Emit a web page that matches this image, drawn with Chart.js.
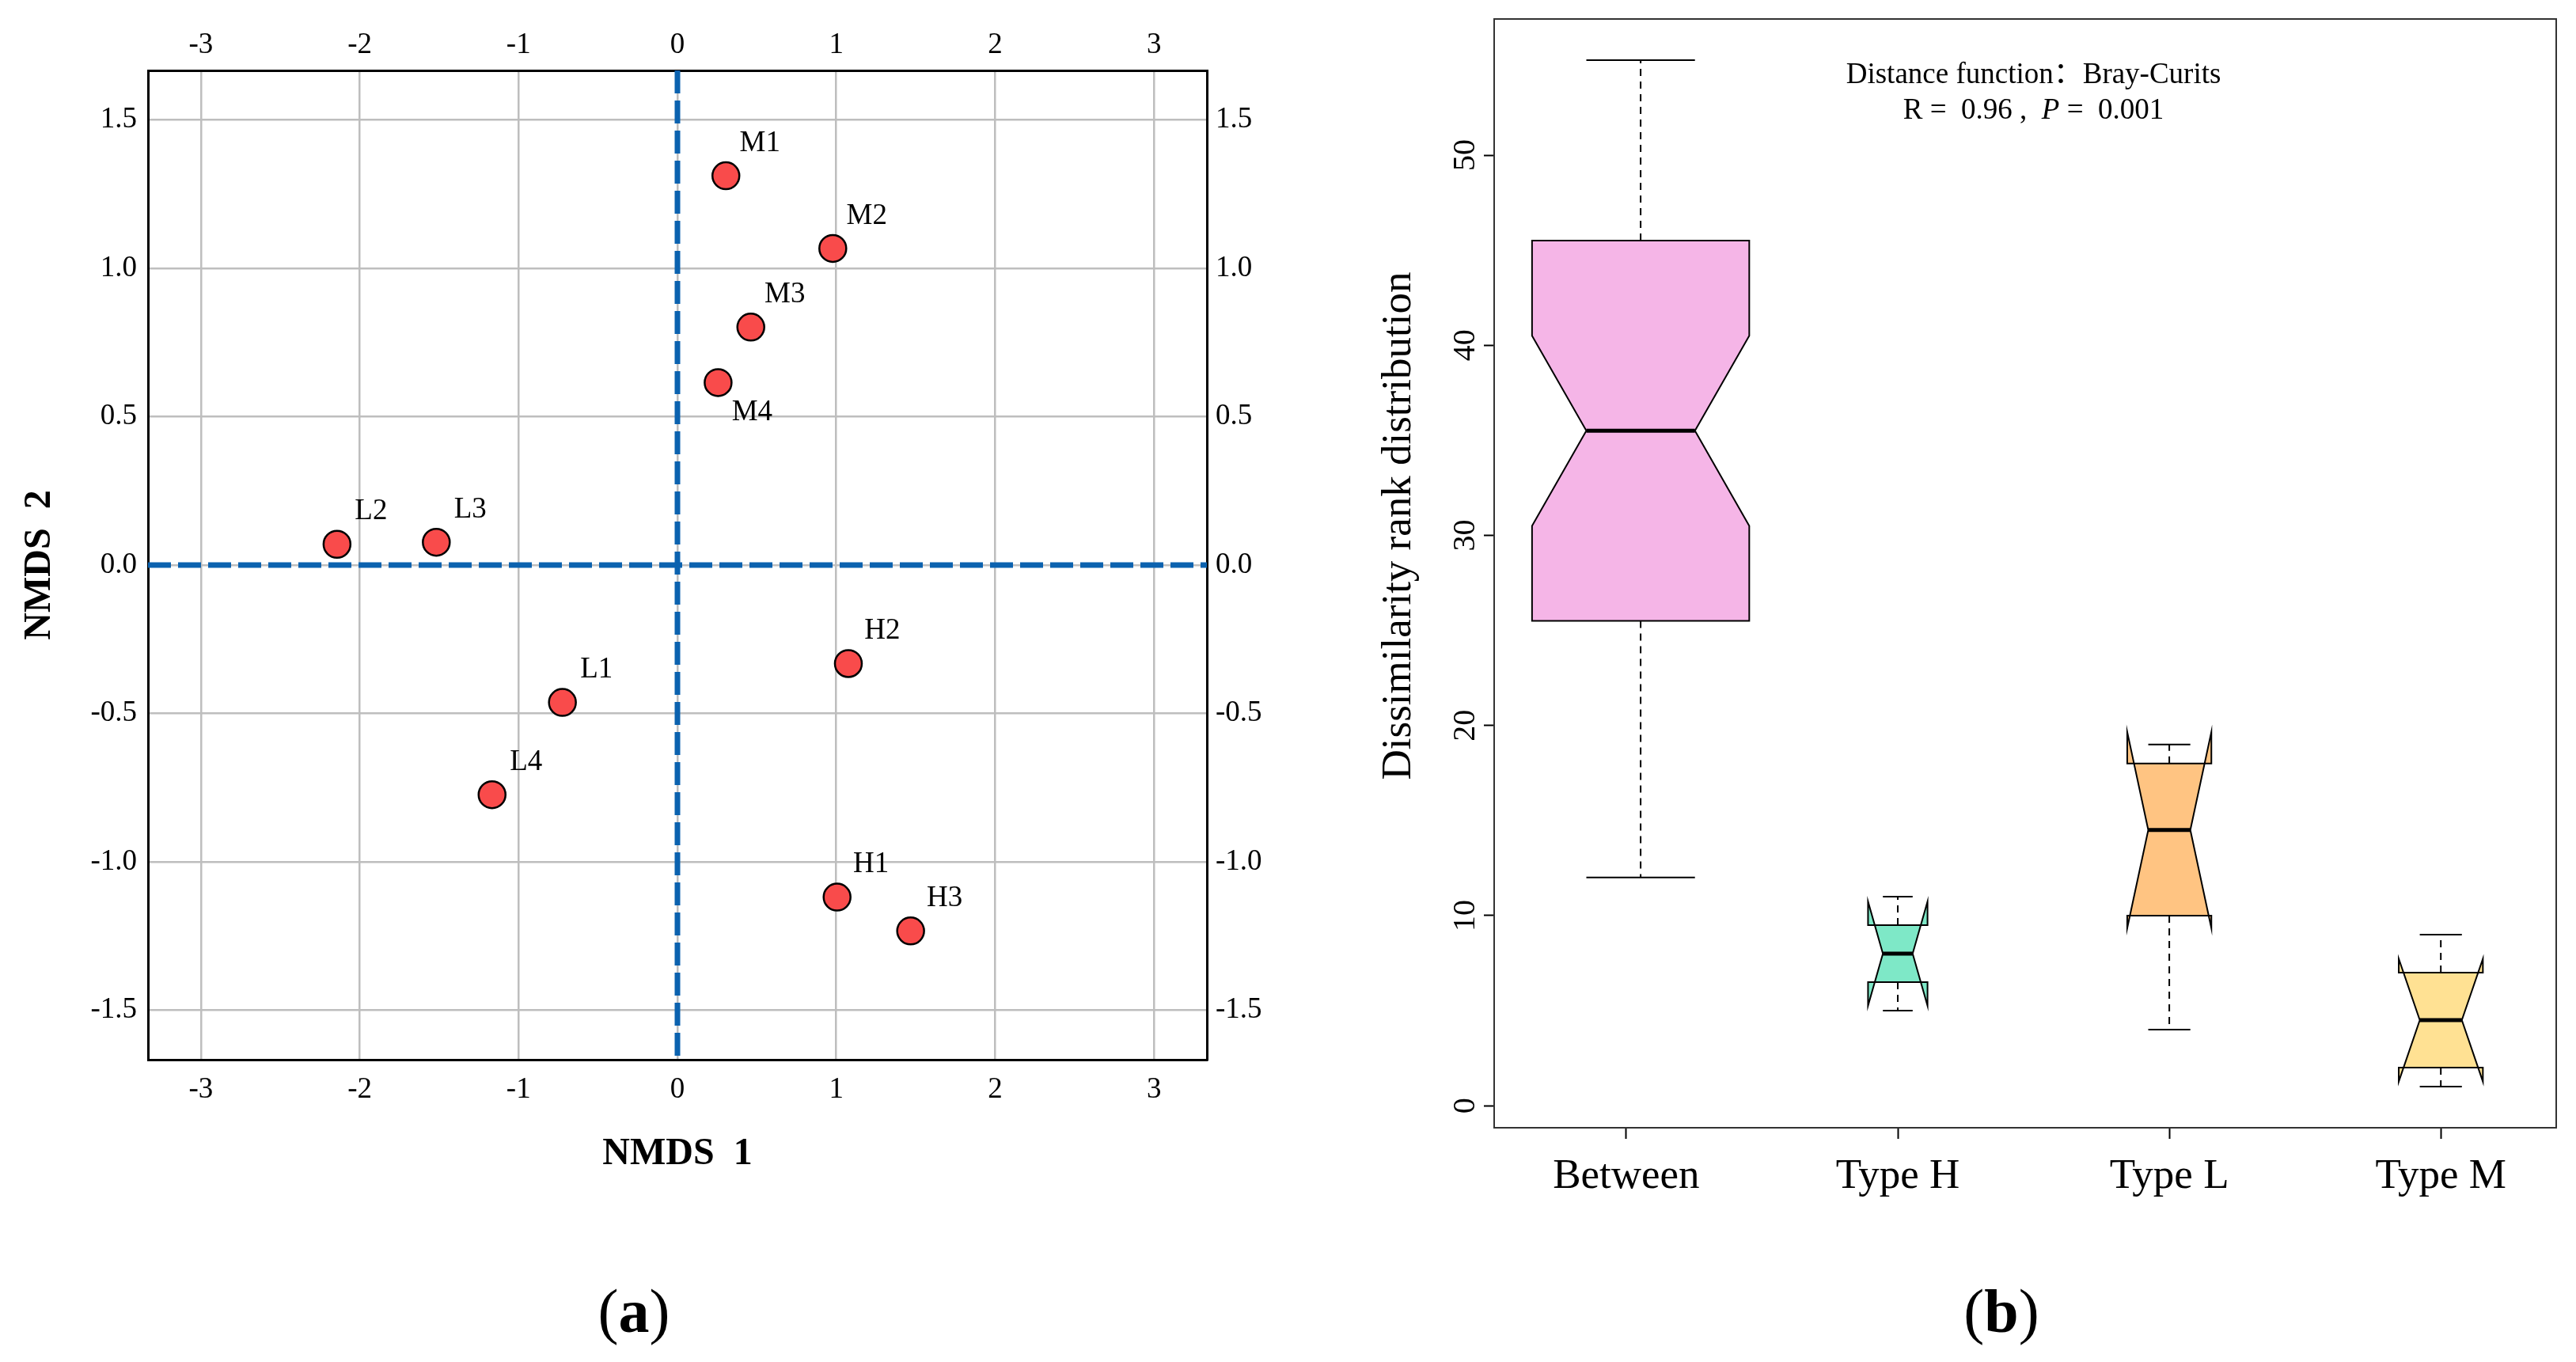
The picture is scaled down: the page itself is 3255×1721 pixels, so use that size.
<!DOCTYPE html>
<html>
<head>
<meta charset="utf-8">
<title>NMDS and ANOSIM</title>
<script src="https://cdn.jsdelivr.net/npm/chart.js@4.4.1/dist/chart.umd.min.js"></script>
<style>
  html, body { margin: 0; padding: 0; background: #fff; }
  body { position: relative; width: 3255px; height: 1721px; overflow: hidden; font-family: 'Liberation Serif', 'Times New Roman', serif; }
  #nmds { position: absolute; left: 0; top: 0; }
  #rank { position: absolute; left: 1640px; top: 0; }
  .panel-tag { position: absolute; top: 1657px; font-size: 78px; line-height: 1.15; transform: translate(-50%, -50%); color: #000; }
</style>
</head>
<body>
<canvas id="nmds" width="1640" height="1721"></canvas>
<canvas id="rank" width="1615" height="1721"></canvas>
<div class="panel-tag" style="left: 801px">(<b>a</b>)</div>
<div class="panel-tag" style="left: 2529px">(<b>b</b>)</div>
<script>
// panel (a): NMDS ordination
const sampleNames = ['M1', 'M2', 'M3', 'M4', 'L1', 'L2', 'L3', 'L4', 'H1', 'H2', 'H3']
const nmds1 = [0.305, 0.978, 0.462, 0.256, -0.724, -2.143, -1.518, -1.167, 1.005, 1.076, 1.468]
const nmds2 = [1.312, 1.067, 0.802, 0.615, -0.463, 0.070, 0.077, -0.774, -1.119, -0.332, -1.233]
const nmdsXTicks = [-3, -2, -1, 0, 1, 2, 3]
const nmdsYTicks = [-1.5, -1.0, -0.5, 0.0, 0.5, 1.0, 1.5]
const nmdsXRange = [-3.333, 3.333]
const nmdsYRange = [-1.667, 1.667]

// panel (b): dissimilarity ranks, notched boxes
const groups = ['Between', 'Type H', 'Type L', 'Type M']
const groupTicks = [1, 2, 3, 4]
const boxAt = [1.053, 2, 3, 4]
const groupSizes = [40, 3, 6, 6]
const whiskerLow = [12, 5, 4, 1]
const quartile1 = [25.5, 6.5, 10, 2]
const medians = [35.5, 8, 14.5, 4.5]
const quartile3 = [45.5, 9.5, 18, 7]
const whiskerHigh = [55, 11, 19, 9]
const notchLow = [30.5, 5.26, 9.34, 1.27]
const notchHigh = [40.5, 10.74, 19.66, 7.73]
const rankTicks = [0, 10, 20, 30, 40, 50]
const rankRange = [-1.16, 57.16]
const groupRange = [0.5135, 4.425]

const serif = "'Liberation Serif', 'Times New Roman', 'Noto Sans CJK SC', serif"
const boxColors = ['#F5B5E7', '#7EE8C7', '#FFC482', '#FFE193']
const pointColor = '#F94B4B'
const zeroLineColor = '#0B62AF'
const gridColor = '#BEBEBE'

Chart.defaults.font.family = serif
Chart.defaults.color = '#000'

// force the box size of an axis so the plot area lands where the figure has it
function fixBox (size) {
  return scale => {
    if (scale.isHorizontal()) scale.height = size
    else scale.width = size
    scale.paddingLeft = 0
    scale.paddingRight = 0
    scale.paddingTop = 0
    scale.paddingBottom = 0
  }
}

function useTicks (values) {
  return scale => { scale.ticks = values.map(v => ({ value: v })) }
}

const pointLabels = {
  id: 'pointLabels',
  afterDatasetsDraw (chart) {
    const ctx = chart.ctx
    const meta = chart.getDatasetMeta(0)
    ctx.save()
    ctx.font = `37px ${serif}`
    ctx.fillStyle = '#000'
    ctx.textAlign = 'center'
    ctx.textBaseline = 'middle'
    meta.data.forEach((el, i) => {
      const below = sampleNames[i] === 'M4'
      ctx.fillText(sampleNames[i], el.x + 43, below ? el.y + 38 : el.y - 41)
    })
    ctx.restore()
  }
}

const nmdsAxis = (position, range, ticks, size, extra) => Object.assign({
  type: 'linear',
  position: position,
  min: range[0],
  max: range[1],
  afterBuildTicks: useTicks(ticks),
  afterFit: fixBox(size),
  border: { display: true, color: '#000', width: 3 },
  grid: { display: false },
  ticks: { font: { size: 37 }, color: '#000' }
}, extra)

new Chart(document.getElementById('nmds'), {
  type: 'scatter',
  data: {
    datasets: [
      {
        label: 'samples',
        data: nmds1.map((v, i) => ({ x: v, y: nmds2[i] })),
        backgroundColor: pointColor,
        borderColor: '#000',
        borderWidth: 2.5,
        pointRadius: 17,
        pointHoverRadius: 17,
        order: 0
      },
      {
        type: 'line',
        label: 'y0',
        data: [{ x: nmdsXRange[0], y: 0 }, { x: nmdsXRange[1], y: 0 }],
        borderColor: zeroLineColor,
        borderWidth: 7,
        borderDash: [29, 9],
        pointRadius: 0,
        fill: false,
        order: 1
      },
      {
        type: 'line',
        label: 'x0',
        data: [{ x: 0, y: nmdsYRange[1] }, { x: 0, y: nmdsYRange[0] }],
        borderColor: zeroLineColor,
        borderWidth: 7,
        borderDash: [29, 9],
        pointRadius: 0,
        fill: false,
        order: 1
      }
    ]
  },
  options: {
    responsive: false,
    animation: false,
    events: [],
    layout: { padding: 0 },
    plugins: { legend: { display: false }, tooltip: { enabled: false } },
    scales: {
      x: nmdsAxis('bottom', nmdsXRange, nmdsXTicks, 382, {
        grid: { display: true, drawOnChartArea: true, drawTicks: false, color: gridColor, lineWidth: 2.5 },
        ticks: { font: { size: 37 }, color: '#000', padding: 16, callback: v => String(v) },
        title: { display: true, text: 'NMDS  1', color: '#000', font: { size: 48, weight: 'bold' }, padding: { top: 0, bottom: 234 } }
      }),
      x2: nmdsAxis('top', nmdsXRange, nmdsXTicks, 89, {
        ticks: { font: { size: 37 }, color: '#000', padding: 2, callback: v => String(v) }
      }),
      y: nmdsAxis('left', nmdsYRange, nmdsYTicks, 187, {
        grid: { display: true, drawOnChartArea: true, drawTicks: false, color: gridColor, lineWidth: 2.5 },
        ticks: { font: { size: 37 }, color: '#000', padding: 14, callback: v => v.toFixed(1) },
        title: { display: true, text: 'NMDS  2', color: '#000', font: { size: 48, weight: 'bold' }, padding: { top: 22, bottom: 0 } }
      }),
      y2: nmdsAxis('right', nmdsYRange, nmdsYTicks, 115, {
        ticks: { font: { size: 37 }, color: '#000', padding: 3, callback: v => v.toFixed(1) }
      })
    }
  },
  plugins: [pointLabels]
})

const notchedBoxes = {
  id: 'notchedBoxes',
  beforeDatasetsDraw (chart) {
    const { ctx, scales: { x, y } } = chart
    const maxN = Math.max(...groupSizes)
    const py = v => y.getPixelForValue(v)
    groups.forEach((g, i) => {
      const pos = boxAt[i]
      const half = 0.4 * Math.sqrt(groupSizes[i] / maxN)
      const xl = x.getPixelForValue(pos - half)
      const xr = x.getPixelForValue(pos + half)
      const xml = x.getPixelForValue(pos - half / 2)
      const xmr = x.getPixelForValue(pos + half / 2)
      const xc = x.getPixelForValue(pos)

      ctx.save()
      ctx.strokeStyle = '#000'
      ctx.lineWidth = 2
      ctx.setLineDash([9, 7])
      ctx.beginPath()
      ctx.moveTo(xc, py(quartile3[i]))
      ctx.lineTo(xc, py(whiskerHigh[i]))
      ctx.moveTo(xc, py(quartile1[i]))
      ctx.lineTo(xc, py(whiskerLow[i]))
      ctx.stroke()
      ctx.setLineDash([])
      ctx.beginPath()
      ctx.moveTo(xml, py(whiskerHigh[i]))
      ctx.lineTo(xmr, py(whiskerHigh[i]))
      ctx.moveTo(xml, py(whiskerLow[i]))
      ctx.lineTo(xmr, py(whiskerLow[i]))
      ctx.stroke()

      ctx.beginPath()
      ctx.moveTo(xl, py(quartile1[i]))
      ctx.lineTo(xl, py(notchLow[i]))
      ctx.lineTo(xml, py(medians[i]))
      ctx.lineTo(xl, py(notchHigh[i]))
      ctx.lineTo(xl, py(quartile3[i]))
      ctx.lineTo(xr, py(quartile3[i]))
      ctx.lineTo(xr, py(notchHigh[i]))
      ctx.lineTo(xmr, py(medians[i]))
      ctx.lineTo(xr, py(notchLow[i]))
      ctx.lineTo(xr, py(quartile1[i]))
      ctx.closePath()
      ctx.fillStyle = boxColors[i]
      ctx.fill()
      ctx.lineJoin = 'miter'
      ctx.stroke()

      ctx.lineWidth = 5
      ctx.beginPath()
      ctx.moveTo(xml, py(medians[i]))
      ctx.lineTo(xmr, py(medians[i]))
      ctx.stroke()
      ctx.restore()
    })
  },
  afterDraw (chart) {
    const { ctx, chartArea, scales: { x, y } } = chart
    ctx.save()
    ctx.fillStyle = '#000'
    ctx.textBaseline = 'middle'
    ctx.textAlign = 'center'
    const cx = x.getPixelForValue(2.5)
    ctx.font = `37px ${serif}`
    ctx.fillText('Distance function：Bray-Curits', cx, y.getPixelForValue(54.2))

    const parts = [['R =  0.96 ,  ', ''], ['P', 'italic '], [' =  0.001', '']]
    const widths = parts.map(p => {
      ctx.font = `${p[1]}37px ${serif}`
      return ctx.measureText(p[0]).width
    })
    let px = cx - widths.reduce((a, b) => a + b, 0) / 2
    ctx.textAlign = 'left'
    parts.forEach((p, k) => {
      ctx.font = `${p[1]}37px ${serif}`
      ctx.fillText(p[0], px, y.getPixelForValue(52.3))
      px += widths[k]
    })

    ctx.translate(chartArea.left - 120, (chartArea.top + chartArea.bottom) / 2 - 60)
    ctx.rotate(-Math.PI / 2)
    ctx.textAlign = 'center'
    ctx.font = `53px ${serif}`
    ctx.fillText('Dissimilarity rank distribution', 0, 0)
    ctx.restore()
  }
}

const frameAxis = (position, size) => ({
  type: 'linear',
  position: position,
  display: true,
  afterFit: fixBox(size),
  border: { display: true, color: '#333', width: 2 },
  grid: { display: false },
  ticks: { display: false }
})

new Chart(document.getElementById('rank'), {
  type: 'scatter',
  data: {
    datasets: [{
      label: 'medians',
      data: medians.map((m, i) => ({ x: boxAt[i], y: m })),
      pointRadius: 0,
      pointHoverRadius: 0
    }]
  },
  options: {
    responsive: false,
    animation: false,
    events: [],
    layout: { padding: 0 },
    plugins: { legend: { display: false }, tooltip: { enabled: false } },
    scales: {
      x: {
        type: 'linear',
        position: 'bottom',
        min: groupRange[0],
        max: groupRange[1],
        afterBuildTicks: useTicks(groupTicks),
        afterFit: fixBox(296),
        border: { display: true, color: '#333', width: 2 },
        grid: { display: true, drawOnChartArea: false, drawTicks: true, tickLength: 14, tickColor: '#000', tickWidth: 2 },
        ticks: { font: { size: 53 }, color: '#000', padding: 16, callback: v => groups[groupTicks.indexOf(v)] }
      },
      y: {
        type: 'linear',
        position: 'left',
        min: rankRange[0],
        max: rankRange[1],
        afterBuildTicks: useTicks(rankTicks),
        afterFit: fixBox(248),
        border: { display: true, color: '#333', width: 2 },
        grid: { display: true, drawOnChartArea: false, drawTicks: true, tickLength: 13, tickColor: '#000', tickWidth: 2 },
        ticks: { font: { size: 40 }, color: '#000', padding: 3, minRotation: 90, maxRotation: 90, crossAlign: 'center', callback: v => String(v) }
      },
      x2: frameAxis('top', 24),
      y2: frameAxis('right', 25)
    }
  },
  plugins: [notchedBoxes]
})
</script>
</body>
</html>
